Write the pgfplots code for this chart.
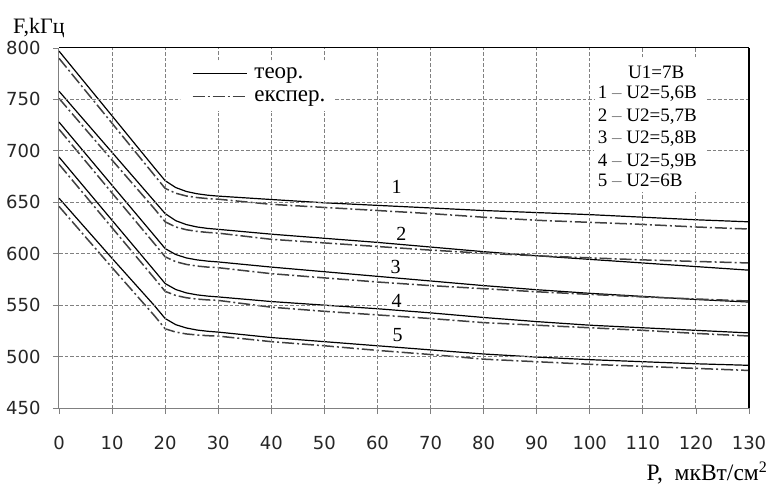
\documentclass[border=0pt]{standalone}
\usepackage{pgfplots}
\usepackage{pgfplotstable}
\pgfplotsset{compat=1.18}
\usepackage{fontspec}
\setmainfont{Liberation Serif}
\newfontfamily\tickfont{DejaVu Sans}

\tikzset{gridln/.style={black!50, line width=0.9pt, dash pattern=on 3.5pt off 2pt}}

% columns: t = теор., e = експер.
\pgfplotstableread{
x    t1    e1    t2    e2    t3    e3    t4    e4    t5    e5
0    797   790   758   751   728   721   694   687   654   646
10   734   726.8 698.5 691   666.5 659   632.5 625.2 595.5 586.5
18   683.4 676.1 650.9 643.6 617.4 609.6 583.4 576   549.4 539.6
20   671   663.5 639   631   605   597   571   563.4 537   527
22   664.3 658.8 632.1 626   599.2 592.2 565.2 559.4 531   523.8
24   660.5 656.1 628.3 623.3 595.9 589.6 561.9 557.2 527.8 522
26   658.3 654.6 626   621.7 594   588   560   555.9 525.8 521
28   656.9 653.6 624.6 620.7 592.8 587   558.8 555.1 524.6 520.3
30   656   653   623.7 620   592   586.4 558   554.6 523.8 519.9
40   652.7 648   619   614   587   580.6 553.5 548   518.5 514.5
50   649.5 645   615   610.5 582.5 576.5 550   544   514.5 510.5
60   647   642   611   607   578   572.5 546.5 540.5 510.5 506
70   644.5 639   606.5 603.5 573.5 569   542.5 537   506.5 502
80   642   635.5 602   600.5 569   566   538   533   502.5 497.5
90   640   632.5 598   598   565   563   534   530.5 499.5 495
100  638   630.5 594.5 596   561.5 560.5 530.5 528   497   492.5
110  635.5 628.5 591   594   558.5 558   528   525.5 495   490.5
120  633   626   587.5 592.5 555.5 556   525.5 522.5 493   488.5
130  631   624   584   591   553   554   523   520   491.5 486.5
}\datatable

\begin{document}
\begin{tikzpicture}
\begin{axis}[
  width=690pt, height=360pt, scale only axis,
  axis lines*=left,
  xmin=0, xmax=130, ymin=450, ymax=800,
  xtick={0,10,...,130}, ytick={450,500,...,800},
  tick align=outside, major tick length=6pt,
  tick style={gray, line width=0.8pt},
  axis line style={gray, line width=1pt, -},
  /pgf/number format/assume math mode=true,
  xticklabel style={font=\tickfont\fontsize{18}{18}\selectfont, text=black!85, anchor=center, yshift=-29pt},
  yticklabel style={font=\tickfont\fontsize{18}{18}\selectfont, text=black!85, xshift=-9pt},
  xlabel={P,\ \ мкВт/см\raisebox{8pt}{\fontsize{16}{16}\selectfont 2}},
  ylabel={F,kГц},
  every axis x label/.style={at={(rel axis cs:1,0)}, anchor=base east, inner sep=0pt,
    xshift=18pt, yshift=-72pt, font=\fontsize{23.5}{23.5}\selectfont},
  every axis y label/.style={at={(rel axis cs:0,1)}, anchor=base west, inner sep=0pt,
    xshift=-46pt, yshift=15pt, font=\fontsize{22}{22}\selectfont},
  legend cell align=left,
  legend image code/.code={\draw[#1] (0pt,0pt) -- (54pt,0pt);},
  legend style={at={(rel axis cs:0.175,0.967)}, anchor=north west, draw=none, fill=white,
    inner xsep=12pt, inner ysep=2pt, font=\fontsize{23}{23}\selectfont,
    nodes={text height=14pt, text depth=5pt, inner sep=2pt}, column sep=5pt},
  teor/.style={black, line width=1.2pt},
  eksp/.style={black!75, line width=1.5pt, dash pattern=on 12pt off 3pt on 2pt off 3pt},
]
\addplot[teor] table[x=x, y=t1] {\datatable};
\addlegendentry{теор.}
\addplot[eksp] table[x=x, y=e1] {\datatable};
\addlegendentry{експер.}
\addplot[teor, forget plot] table[x=x, y=t2] {\datatable};
\addplot[eksp, forget plot] table[x=x, y=e2] {\datatable};
\addplot[teor, forget plot] table[x=x, y=t3] {\datatable};
\addplot[eksp, forget plot] table[x=x, y=e3] {\datatable};
\addplot[teor, forget plot] table[x=x, y=t4] {\datatable};
\addplot[eksp, forget plot] table[x=x, y=e4] {\datatable};
\addplot[teor, forget plot] table[x=x, y=t5] {\datatable};
\addplot[eksp, forget plot] table[x=x, y=e5] {\datatable};

% curve numbers
\begin{scope}[every node/.style={fill=white, inner sep=1pt, font=\fontsize{20}{20}\selectfont}]
\node at (axis cs:63.6,665) {1};
\node at (axis cs:64.5,619.6) {2};
\node at (axis cs:63.4,587) {3};
\node at (axis cs:63.6,553.7) {4};
\node at (axis cs:63.8,520.5) {5};
\end{scope}

% voltages
\begin{scope}[every node/.style={anchor=base west, inner sep=0pt, font=\fontsize{19}{19}\selectfont}]
\node at (axis cs:107.2,770.8) {U1=7В};
\node at (axis cs:101.5,750.6) {1 {\color{gray}--} U2=5,6В};
\node at (axis cs:101.5,728.2) {2 {\color{gray}--} U2=5,7В};
\node at (axis cs:101.5,707.2) {3 {\color{gray}--} U2=5,8В};
\node at (axis cs:101.5,685) {4 {\color{gray}--} U2=5,9В};
\node at (axis cs:101.5,665) {5 {\color{gray}--} U2=6В};
\end{scope}

\coordinate (ll) at (rel axis cs:0,0);
\coordinate (ur) at (rel axis cs:1,1);
\end{axis}
% dashed grid in the axis' own units (origin = (0,450)), open behind the texts
\begin{scope}[shift={(ll)}, x=5.30769pt, y=1.028571pt]
\foreach \i in {10,20,60,70,80,90,100} \draw[gridln] (\i,0) -- (\i,350);
\foreach \i in {30,40,50} {\draw[gridln] (\i,0) -- (\i,289); \draw[gridln] (\i,338) -- (\i,350);}
\foreach \i in {110,120} {\draw[gridln] (\i,0) -- (\i,210); \draw[gridln] (\i,341) -- (\i,350);}
\foreach \j in {50,150,200} \draw[gridln] (0,\j) -- (130,\j);
\draw[gridln] (0,100) -- (62,100); \draw[gridln] (65.5,100) -- (130,100);
\draw[gridln] (0,250) -- (100.8,250); \draw[gridln] (122.1,250) -- (130,250);
\draw[gridln] (0,300) -- (22.8,300); \draw[gridln] (52,300) -- (100.8,300); \draw[gridln] (122.1,300) -- (130,300);
\end{scope}
\draw[black, line width=1pt] (ll|-ur) -- (ur);
\draw[black, line width=1.5pt] (ur) -- (ur|-ll);
\pgfresetboundingbox
\path ([shift={(-59pt,-77pt)}]ll) rectangle ([shift={(26pt,48pt)}]ur);
\end{tikzpicture}
\end{document}
